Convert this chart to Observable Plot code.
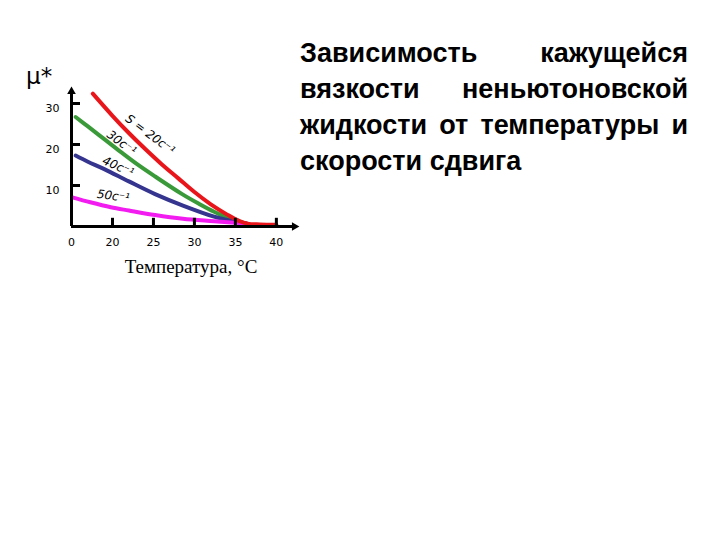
<!DOCTYPE html>
<html>
<head>
<meta charset="utf-8">
<script src="https://cdn.jsdelivr.net/npm/d3@7"></script>
<script src="https://cdn.jsdelivr.net/npm/@observablehq/plot@0.6"></script>
<style>
  html, body { margin: 0; padding: 0; background: #fff; }
  #page { position: relative; width: 720px; height: 540px; background: #fff; overflow: hidden; }
  #chart { position: absolute; left: 0; top: 0; }
  #mu { position: absolute; left: 26px; top: 63px; font: 23px "DejaVu Sans", sans-serif; color: #000; }
  #xlabel { position: absolute; left: 91px; top: 256px; width: 200px; text-align: center; font: 19px "Liberation Serif", serif; color: #000; }
  #title { position: absolute; left: 300px; top: 35px; width: 388px; font: bold 27px/36px "Liberation Sans", Arial, sans-serif; text-align: justify; color: #000; }
</style>
</head>
<body>
<div id="page">
  <div id="chart"></div>
  <div id="mu">μ*</div>
  <div id="xlabel">Температура, °С</div>
  <div id="title">Зависимость кажущейся вязкости неньютоновской жидкости от температуры и скорости сдвига</div>
</div>
<script>
// ---- data ----
const xTicks = [15, 20, 25, 30, 35, 40];
const xTickLabels = ["0", "20", "25", "30", "35", "40"];
const xInnerTicks = [20, 25, 30, 35, 40];
const yTicks = [10, 20, 30];
const xMin = 15, xMax = 42.7, yMax = 33.9;

const redT = [17.6, 20, 22, 24, 26, 28, 30, 32, 34, 35.5, 36.5, 38, 40];
const redV = [32.4, 27.0, 22.8, 18.9, 15.2, 11.8, 8.4, 5.4, 2.9, 1.3, 0.7, 0.5, 0.4];

const greenT = [15.5, 17, 19, 21, 23, 25.2, 28.5, 30.5, 32.4, 34.5, 36.4];
const greenV = [26.7, 24.4, 21.3, 18.2, 15.2, 12.2, 7.9, 5.6, 3.6, 1.8, 0.7];

const blueT = [15.5, 17, 19, 22, 25.2, 28.6, 32.4, 34.5, 36.4];
const blueV = [17.3, 15.8, 14.0, 11.0, 7.9, 5.1, 2.4, 1.4, 0.7];

const magentaT = [15.1, 17.3, 19.8, 22, 25.2, 28.6, 32.4, 36.4];
const magentaV = [7.1, 5.9, 4.7, 3.9, 2.8, 1.9, 1.3, 0.7];

const curveLabels = ["S = 20с⁻¹", "30с⁻¹", "40с⁻¹", "50с⁻¹"];
const labelT = [24.6, 21.1, 20.7, 20.1];
const labelV = [22.4, 20.4, 14.6, 7.4];

// ---- build ----
const toRows = (T, V) => T.map((t, i) => ({t, v: V[i]}));
const series = [
  {rows: toRows(greenT, greenV), color: "#3a9a3a"},
  {rows: toRows(blueT, blueV), color: "#35358f"},
  {rows: toRows(magentaT, magentaV), color: "#f21cf0"},
  {rows: toRows(redT, redV), color: "#e8161a"}
];
const labelRot = [37, 36, 24, 8];
const labels = curveLabels.map((s, i) => ({s, t: labelT[i], v: labelV[i], r: labelRot[i]}));

const chart = Plot.plot({
  width: 320,
  height: 300,
  marginLeft: 71,
  marginRight: 22,
  marginTop: 87,
  marginBottom: 74,
  style: {fontFamily: "DejaVu Sans, sans-serif", fontSize: "11px", color: "#000", background: "transparent", overflow: "visible"},
  x: {domain: [xMin, xMax]},
  y: {domain: [0, yMax]},
  marks: [
    Plot.axisX({ticks: xTicks, tickFormat: d => xTickLabels[xTicks.indexOf(d)], tickSize: 0, tickPadding: 12, fontSize: 11, label: null}),
    Plot.axisY({ticks: yTicks, tickSize: 0, tickPadding: 12, dy: 5, fontSize: 11, label: null}),
    ...series.map(s => Plot.line(s.rows, {x: "t", y: "v", stroke: s.color, strokeWidth: 4, curve: "catmull-rom"})),
    // axes lines
    Plot.ruleY([0], {x1: xMin, x2: xMax - 0.6, stroke: "#000", strokeWidth: 3}),
    Plot.ruleX([xMin], {y1: 0, y2: yMax - 1.2, stroke: "#000", strokeWidth: 3}),
    Plot.dot([{t: xMax - 0.5, v: 0}], {x: "t", y: "v", symbol: "triangle", r: 3.2, fill: "#000", stroke: "none", rotate: 90}),
    Plot.dot([{t: xMin, v: yMax - 1.0}], {x: "t", y: "v", symbol: "triangle", r: 3.2, fill: "#000", stroke: "none"}),
    // inward ticks
    Plot.ruleX(xInnerTicks, {y1: 0, y2: 2, stroke: "#000", strokeWidth: 3}),
    Plot.ruleY(yTicks, {x1: xMin, x2: xMin + 1.1, stroke: "#000", strokeWidth: 3}),
    // curve labels
    ...labels.map(l => Plot.text([l], {x: "t", y: "v", text: "s", rotate: l.r, fontSize: 12, fontStyle: "italic", fontFamily: "DejaVu Sans, sans-serif", fill: "#000"}))
  ]
});
document.getElementById("chart").appendChild(chart);
</script>
</body>
</html>
